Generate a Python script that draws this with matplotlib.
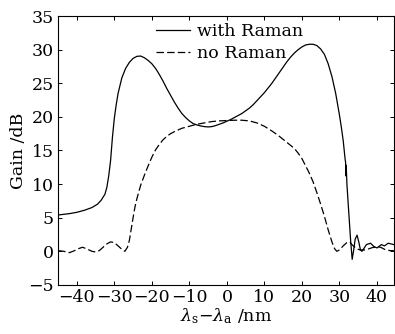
import matplotlib
matplotlib.use('Agg')
import matplotlib.pyplot as plt

# with Raman curve
x_raman = [-45, -42, -40, -38, -36, -34.5, -33.5, -32.5, -32, -31.5, -31, -30.5, -30, -29.5, -29,
           -28, -27, -26, -25, -24, -23, -22, -21, -20, -19, -18, -17, -16, -15, -14, -13, -12,
           -11, -10, -9, -8, -7, -6, -5, -4, -3, -2, -1, 0, 1, 2, 3, 4, 5, 6, 7, 8, 9, 10, 11,
           12, 13, 14, 15, 16, 17, 18, 19, 20, 21, 22, 23, 24, 25, 26, 27, 28, 29, 30, 30.5, 31,
           31.5, 31.65, 31.75, 31.8, 32, 32.5, 33, 33.4, 33.8, 34.2, 34.7, 35.2, 35.6, 36, 36.5,
           37.2, 38.3, 39.2, 40, 40.5, 41.2, 42, 43, 44.5]
g_raman = [5.4, 5.6, 5.8, 6.1, 6.5, 7.0, 7.6, 8.5, 9.5, 11.2, 13.5, 17.0, 19.8, 21.8, 23.5,
           25.8, 27.2, 28.1, 28.7, 29.0, 29.05, 28.8, 28.4, 27.9, 27.2, 26.3, 25.3, 24.2, 23.2,
           22.2, 21.3, 20.5, 19.9, 19.4, 19.0, 18.8, 18.65, 18.55, 18.5, 18.55, 18.7, 18.9,
           19.1, 19.35, 19.6, 19.9, 20.2, 20.5, 20.9, 21.3, 21.8, 22.4, 23.0, 23.6, 24.3, 25.0,
           25.8, 26.6, 27.4, 28.2, 28.9, 29.5, 30.0, 30.4, 30.7, 30.8, 30.8, 30.6, 30.1, 29.3,
           27.9, 26.0, 23.5, 20.3, 18.5, 16.5, 13.8, 13.2, 11.2, 12.8, 10.0, 5.7, 1.5, -1.2,
           0.2, 1.8, 2.4, 1.3, 0.2, 0.0, 0.4, 1.0, 1.2, 0.7, 0.5, 0.7, 1.0, 0.8, 1.2, 1.0]

# no Raman curve
x_noraman = [-45, -43.5, -42, -41, -39.5, -38.5, -37.5, -36, -35, -34, -33, -32, -31, -30, -29,
             -28, -27.2, -26.5, -26, -25.5, -25, -24.5, -24, -23, -22, -21, -20, -19, -18,
             -17, -16, -15, -14, -12, -10, -8, -6, -4, -2, 0, 2, 4, 6, 8, 10, 12, 14, 16, 18,
             19, 20, 21, 22, 23, 24, 25, 26, 27, 28, 28.7, 29.3, 30, 31, 32, 32.7, 33.5, 34.5,
             35.5, 37, 38.5, 40, 41, 42, 43.5, 44.5]
g_noraman = [0.1, 0.0, -0.2, 0.0, 0.4, 0.6, 0.4, 0.0, -0.1, 0.1, 0.6, 1.1, 1.4, 1.3, 0.8,
             0.3, 0.0, 0.6, 1.6, 3.3, 5.0, 6.6, 7.8, 9.8, 11.3, 12.7, 14.0, 15.1, 15.9,
             16.6, 17.1, 17.5, 17.8, 18.3, 18.6, 18.9, 19.1, 19.3, 19.4, 19.45, 19.5, 19.5,
             19.4, 19.1, 18.6, 17.9, 17.1, 16.2, 15.3, 14.6, 13.8, 12.7, 11.6, 10.3, 8.7, 7.0,
             5.2, 3.2, 1.4, 0.4, 0.0, 0.2, 0.8, 1.3, 1.4, 0.9, 0.4, 0.2, 0.2, 0.5, 0.7, 0.6,
             0.3, 0.1, 0.1]

plt.rcParams['font.family'] = 'DejaVu Serif'
plt.rcParams['mathtext.fontset'] = 'dejavuserif'
plt.rcParams['font.size'] = 12.5

fig = plt.figure(figsize=(3.95, 3.34), dpi=100)
ax = fig.add_axes([0.147, 0.147, 0.85, 0.805])

ax.plot(x_raman, g_raman, color='black', lw=0.9, label='with Raman')
ax.plot(x_noraman, g_noraman, color='black', lw=0.9, dashes=(6, 2.5), label='no Raman')

ax.set_xlim(-45, 44.5)
ax.set_ylim(-5, 35)
ax.set_xticks(range(-40, 41, 10))
ax.set_yticks(range(-5, 36, 5))
ax.tick_params(direction='in', top=True, right=True, length=3, width=0.7, pad=3)
for s in ax.spines.values():
    s.set_linewidth(0.8)

ax.set_ylabel('Gain /dB', labelpad=1)
ax.set_xlabel(r'$\lambda_\mathrm{s}$$-$$\lambda_\mathrm{a}$ /nm', labelpad=0)

ax.legend(loc='upper left', bbox_to_anchor=(0.27, 1.0), frameon=False,
          handlelength=2.0, handletextpad=0.4, labelspacing=0.3, borderaxespad=0)

fig.savefig('out.png', dpi=100)
